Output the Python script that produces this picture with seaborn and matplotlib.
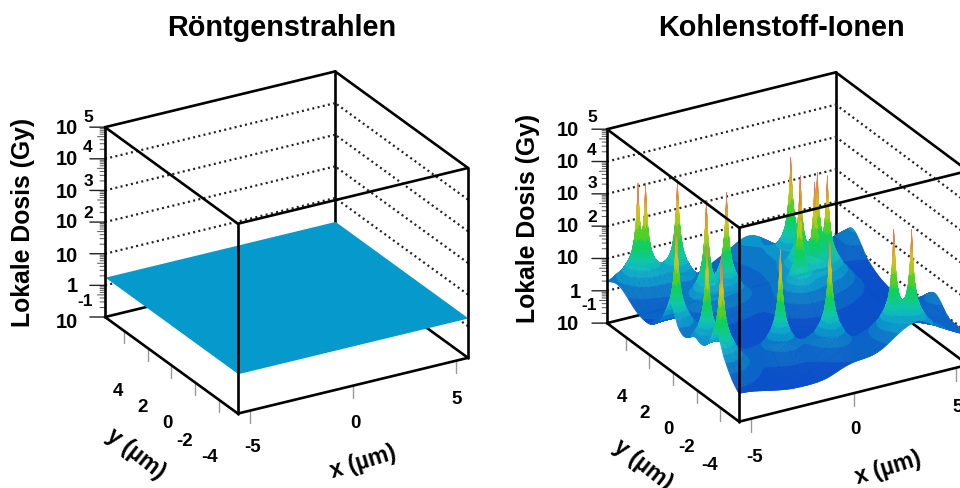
import numpy as np
import matplotlib
matplotlib.use('Agg')
import matplotlib.pyplot as plt
import matplotlib.tri as mtri
from matplotlib.colors import BoundaryNorm, ListedColormap
from mpl_toolkits.mplot3d import proj3d
import seaborn as sns

# values, dose is log10(Gy)
titles = ['Röntgenstrahlen', 'Kohlenstoff-Ionen']
xray_dose = 0.26
xray_color = '#0699cb'

# smooth background of the ion panel, rows go y = -5.6 ... 5.6, columns x = -5.6 ... 5.6
grid_pos = [-5.6, -4.2, -2.8, -1.4, 0.0, 1.4, 2.8, 4.2, 5.6]
ion_base = [
    [-.28, -.38, -.48, -.50, -.20, -.10, .15, .15, -.10],
    [-.30, -.40, -.45, -.45, -.40, -.45, -.25, -.25, -.05],
    [-.20, -.40, -.40, -.45, -.45, -.40, -.40, -.15, .45],
    [-.18, -.40, -.40, -.45, -.45, -.45, -.40, -.40, -.05],
    [-.25, -.35, -.40, -.45, -.40, -.40, -.45, -.50, -.55],
    [-.25, -.25, -.40, -.40, -.40, -.40, -.45, -.50, -.45],
    [-.15, -.25, -.30, -.25, -.05, .05, -.25, -.35, -.10],
    [-.08, -.15, -.25, -.15, .15, .30, -.15, -.25, .55],
    [.00, -.15, -.25, -.25, .20, .60, .05, -.25, -.28],
]

# ion tracks
peak_x = [-4.57, -4.29, -2.96, -5.30, -2.92, -1.77, -5.00, -5.33, 2.31, 1.75, 0.91, 1.95, 2.54, 2.74, -2.27, -0.21, 2.54, 3.20]
peak_y = [4.76, 4.60, 4.20, 0.23, 1.82, 2.10, -1.84, -3.63, 3.72, 1.95, 0.54, 1.07, 1.87, 1.37, -3.33, -3.95, -4.61, -4.98]
peak_h = [3.4, 3.4, 3.4, 3.4, 3.4, 3.4, 3.3, 3.6, 3.4, 3.4, 3.4, 3.4, 3.4, 3.4, 3.2, 3.3, 3.4, 3.4]

# how far the dose falls with distance from a track
fall_r = [0, .02, .05, .08, .15, .25, .4, .7, 1, 1.5, 2, 3, 5]
fall_drop = [0, .3, .8, 1.2, 1.75, 2.2, 2.55, 3.0, 3.3, 3.8, 4.3, 5.2, 7]

band_levels = [-2, -.05, .25, .5, .7, .87, 1.02, 1.2, 1.4, 1.7, 2.1, 2.45, 2.75, 3.0, 3.2, 5]
band_colors = ['#0a50c8', '#0b64c8', '#0c7ac8', '#0b96cc', '#10a8c8', '#10bcbe', '#10c8a6',
               '#10cc84', '#10d060', '#50d028', '#a8cc20', '#d8c020', '#e0a030', '#e08848', '#e07858']

z_major = [-1, 0, 1, 2, 3, 4, 5]
z_labels = ['10', '1', '10', '10', '10', '10', '10']
z_powers = ['-1', '', '', '2', '3', '4', '5']
x_ticks = [-5, 0, 5]
y_ticks = [-4, -2, 0, 2, 4]

XMIN, XMAX = -5.6, 5.6
YMIN, YMAX = -5.6, 5.6
ZMIN, ZMAX = -1, 5

sns.set_style('white')
plt.rcParams['font.family'] = ['Liberation Sans', 'DejaVu Sans']

W, H = 960, 488
fig = plt.figure(figsize=(W / 100, H / 100), dpi=100)

palette = sns.blend_palette(band_colors, n_colors=len(band_colors))
cmap = ListedColormap(palette)
norm = BoundaryNorm(band_levels, cmap.N)


def label(px, py, s, size=13.5, rot=0, weight='bold'):
    fig.text(px / W, 1 - py / H, s, fontsize=size, rotation=rot, ha='center', va='center',
             weight=weight, color='black', rotation_mode='anchor')


def box_px(ax, pts):
    ax.apply_aspect()
    xs, ys, _ = proj3d.proj_transform(*np.array(pts).T, ax.get_proj())
    return ax.transData.transform(np.c_[xs, ys])


def fit_box(ax, cx, cy, span):
    # scale and move the axes until the box lands where it is in the picture
    ax.set_position([0, 0, 500 / W, 500 / H])
    p = box_px(ax, [(XMIN, YMAX, ZMIN), (XMAX, YMIN, ZMIN)])
    size = 500 * span / (p[1, 0] - p[0, 0])
    ax.set_position([0, 0, size / W, size / H])
    p = box_px(ax, [(XMIN, YMAX, ZMIN), (XMAX, YMIN, ZMAX)]).mean(axis=0)
    ax.set_position([(cx - p[0]) / W, (H - cy - p[1]) / H, size / W, size / H])


def draw_box(ax):
    line = dict(color='black', lw=1.9, solid_capstyle='round')
    # hidden behind the surface
    ax.plot([XMAX, XMAX], [YMAX, YMAX], [ZMIN, ZMAX], zorder=1, **line)
    ax.plot([XMIN, XMAX], [YMAX, YMAX], [ZMIN, ZMIN], zorder=1, **line)
    ax.plot([XMAX, XMAX], [YMIN, YMAX], [ZMIN, ZMIN], zorder=1, **line)
    for z in z_major[1:-1]:
        dots = dict(color='#222222', lw=1.6, ls=(0, (0.9, 1.5)), zorder=1)
        ax.plot([XMIN, XMAX], [YMAX, YMAX], [z, z], **dots)
        ax.plot([XMAX, XMAX], [YMIN, YMAX], [z, z], **dots)
    # in front
    for xs, ys, zs in [
        ([XMIN, XMAX], [YMAX, YMAX], [ZMAX, ZMAX]),
        ([XMAX, XMAX], [YMIN, YMAX], [ZMAX, ZMAX]),
        ([XMIN, XMAX], [YMIN, YMIN], [ZMAX, ZMAX]),
        ([XMIN, XMIN], [YMIN, YMAX], [ZMAX, ZMAX]),
        ([XMIN, XMIN], [YMAX, YMAX], [ZMIN, ZMAX]),
        ([XMIN, XMIN], [YMIN, YMIN], [ZMIN, ZMAX]),
        ([XMAX, XMAX], [YMIN, YMIN], [ZMIN, ZMAX]),
        ([XMIN, XMAX], [YMIN, YMIN], [ZMIN, ZMIN]),
        ([XMIN, XMIN], [YMIN, YMAX], [ZMIN, ZMIN]),
    ]:
        ax.plot(xs, ys, zs, zorder=5, **line)
    # ticks
    for v in x_ticks:
        ax.plot([v, v], [YMIN, YMIN], [ZMIN, ZMIN - .4], color='#999999', lw=1, zorder=4)
    for v in y_ticks:
        ax.plot([XMIN, XMIN], [v, v], [ZMIN, ZMIN - .4], color='#999999', lw=1, zorder=4)
    for z in z_major:
        ax.plot([XMIN, XMIN - .55], [YMAX, YMAX + .32], [z, z], color='#222222', lw=1, zorder=4)
    for z in z_major[:-1]:
        for m in np.log10(np.arange(2, 10)):
            f = .5 if m == np.log10(5) else .33
            ax.plot([XMIN, XMIN - .55 * f], [YMAX, YMAX + .32 * f], [z + m, z + m],
                    color='#555555', lw=.7, zorder=4)


def new_axes(elev, z_aspect):
    ax = fig.add_axes([0, 0, .5, .5], projection='3d', computed_zorder=False)
    ax.set_proj_type('ortho')
    ax.view_init(elev=elev, azim=-120)
    ax.set_xlim(XMIN, XMAX)
    ax.set_ylim(YMIN, YMAX)
    ax.set_zlim(ZMIN, ZMAX)
    ax.set_box_aspect((1, 1, z_aspect))
    ax.set_axis_off()
    return ax


# left panel
ax1 = new_axes(24.8, .787)
xx, yy = np.meshgrid([XMIN, XMAX], [YMIN, YMAX])
ax1.plot_surface(xx, yy, np.full_like(xx, xray_dose), color=xray_color, shade=False,
                 linewidth=0, antialiased=False, zorder=2)
draw_box(ax1)
fit_box(ax1, 286.5, 242.5, 363)

# right panel
gx, gy = np.meshgrid(grid_pos, grid_pos)
tri = mtri.Triangulation(gx.ravel(), gy.ravel())
smooth = mtri.CubicTriInterpolator(tri, np.array(ion_base).ravel(), kind='geom')

mx = np.union1d(np.linspace(XMIN, XMAX, 361), peak_x)
my = np.union1d(np.linspace(YMIN, YMAX, 361), peak_y)
mesh_x, mesh_y = np.meshgrid(mx, my)
dose = 10 ** np.ma.filled(smooth(mesh_x, mesh_y), 0.0)
for px, py, h in zip(peak_x, peak_y, peak_h):
    r = np.hypot(mesh_x - px, mesh_y - py)
    dose = dose + 10 ** (h - np.interp(r, fall_r, fall_drop))

ax2 = new_axes(25.5, .813)
surf = ax2.plot_surface(mesh_x, mesh_y, np.log10(dose), cmap=cmap, norm=norm, rstride=1, cstride=1,
                        linewidth=.25, antialiased=True, zorder=2)
surf.set_edgecolor('face')
draw_box(ax2)
fit_box(ax2, 787.5, 247, 361)

# texts, left then right
label(282, 28, titles[0], size=20.8)
label(781, 28, titles[1], size=20.8)
label(23, 222, 'Lokale Dosis (Gy)', size=17.8, rot=90)
label(528, 218, 'Lokale Dosis (Gy)', size=17.8, rot=90)

base_y = [[322, 287, 257, 223, 192, 160, 128], [325, 292, 259, 227, 194, 162, 130]]
sup_y = [[301, 0, 0, 213, 182, 148, 118], [305, 0, 0, 217, 183, 151, 118]]
for i, (x10, x1, xs) in enumerate([(67, 72, 88), (568, 575, 592)]):
    for k, (t, p) in enumerate(zip(z_labels, z_powers)):
        label(x1 if t == '1' else x10, base_y[i][k], t, size=14.5)
        if p:
            label(xs - 3 if p == '-1' else xs, sup_y[i][k], p, size=12.5)

y_tick_pos = [[(210, 458), (185, 442), (167, 423), (143, 407), (118, 392)],
              [(710, 465), (687, 448), (668, 430), (645, 413), (622, 397)]]
x_tick_pos = [[(253, 448), (355, 423), (457, 399)], [(755, 457), (855, 430), (958, 407)]]
for i in range(2):
    for v, (px, py) in zip(y_ticks, y_tick_pos[i]):
        label(px, py, str(v), size=13.5)
    for v, (px, py) in zip(x_ticks, x_tick_pos[i]):
        label(px, py, str(v), size=13.5)

label(136, 454, 'y (µm)', size=16.5, rot=-38)
label(363, 462, 'x (µm)', size=16.5, rot=17)
label(643, 465, 'y (µm)', size=16.5, rot=-38)
label(888, 468, 'x (µm)', size=16.5, rot=17)

fig.savefig('out.png', dpi=100)
